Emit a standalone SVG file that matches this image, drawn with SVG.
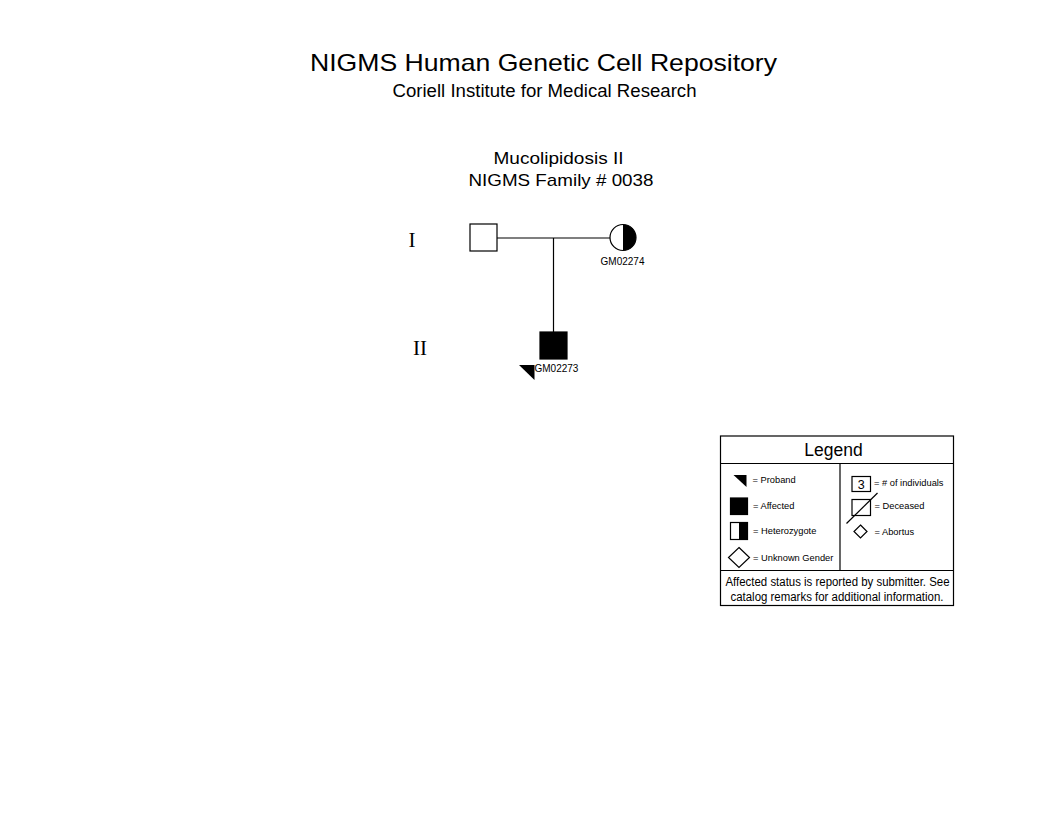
<svg xmlns="http://www.w3.org/2000/svg" width="1056" height="816" viewBox="0 0 1056 816">
<style>
text{font-family:"Liberation Sans",Arial,sans-serif;fill:#000}
.gen{font-family:"Liberation Serif","Times New Roman",serif;font-size:21px}
.lbl{font-size:10px}
.leg{font-size:9.3px}
.ln{stroke:#000;stroke-width:1.2;fill:none}
.sym{stroke:#000;stroke-width:1.2;fill:#fff}
.blk{fill:#000;stroke:#000;stroke-width:1.2}
</style>
<rect width="1056" height="816" fill="#fff"/>
<g id="titles">
<text x="543.5" y="71" font-size="24" text-anchor="middle" textLength="467" lengthAdjust="spacingAndGlyphs">NIGMS Human Genetic Cell Repository</text>
<text x="544.5" y="97" font-size="17.5" text-anchor="middle" textLength="304" lengthAdjust="spacingAndGlyphs">Coriell Institute for Medical Research</text>
<text x="558.5" y="163.5" font-size="17" text-anchor="middle" textLength="130" lengthAdjust="spacingAndGlyphs">Mucolipidosis II</text>
<text x="561" y="186" font-size="17" text-anchor="middle" textLength="185" lengthAdjust="spacingAndGlyphs">NIGMS Family # 0038</text>
<text class="gen" x="412" y="247" text-anchor="middle">I</text>
<text class="gen" x="420" y="355" text-anchor="middle">II</text>
</g>
<g id="connectors">
<line class="ln" x1="497" y1="238" x2="610" y2="238"/>
<line class="ln" x1="553.5" y1="238" x2="553.5" y2="332"/>
</g>
<g id="I-1">
<rect class="sym" x="470" y="224" width="27" height="27"/>
</g>
<g id="I-2">
<circle class="sym" cx="623" cy="237.5" r="13"/>
<path d="M623 224.5 A13 13 0 0 1 623 250.5 Z" fill="#000"/>
<text class="lbl" x="622.5" y="265" text-anchor="middle">GM02274</text>
</g>
<g id="II-1">
<rect class="blk" x="540" y="332" width="27" height="27"/>
<polygon points="519,365 534.5,365 534.5,380" fill="#000"/>
<text class="lbl" x="534.5" y="371.5">GM02273</text>
</g>
<g id="legend">
<rect class="ln" x="720.5" y="436" width="233" height="169.5"/>
<line class="ln" x1="720.5" y1="463.5" x2="953.5" y2="463.5"/>
<line class="ln" x1="720.5" y1="570.5" x2="953.5" y2="570.5"/>
<line class="ln" x1="840" y1="463.5" x2="840" y2="570.5"/>
<text x="833.5" y="456" font-size="17.5" text-anchor="middle">Legend</text>
<polygon points="733.5,475 746.5,475 746.5,487" fill="#000"/>
<text class="leg" x="752.5" y="482.5">= Proband</text>
<rect class="blk" x="730.5" y="498" width="17" height="16.5"/>
<text class="leg" x="753" y="508.5">= Affected</text>
<rect class="sym" x="730.5" y="522.5" width="17" height="17"/>
<rect x="739" y="522.5" width="8.5" height="17" fill="#000"/>
<text class="leg" x="753" y="534">= Heterozygote</text>
<polygon class="sym" points="739,547.5 749.5,557.5 739,567.5 728.5,557.5"/>
<text class="leg" x="753" y="560.5">= Unknown Gender</text>
<rect class="sym" x="852" y="476.5" width="18.5" height="15"/>
<text x="861.2" y="489" font-size="12.5" text-anchor="middle">3</text>
<text class="leg" x="874" y="486">= # of individuals</text>
<rect class="sym" x="852" y="499.5" width="18.5" height="16"/>
<line class="ln" x1="846.5" y1="523.5" x2="877.5" y2="493"/>
<text class="leg" x="874.5" y="509">= Deceased</text>
<polygon class="sym" points="860.5,525 867,531.5 860.5,538 854,531.5"/>
<text class="leg" x="874.5" y="535">= Abortus</text>
<text x="837.5" y="586" font-size="12" text-anchor="middle" textLength="224" lengthAdjust="spacingAndGlyphs">Affected status is reported by submitter. See</text>
<text x="837" y="601" font-size="12" text-anchor="middle" textLength="213" lengthAdjust="spacingAndGlyphs">catalog remarks for additional information.</text>
</g>
</svg>
